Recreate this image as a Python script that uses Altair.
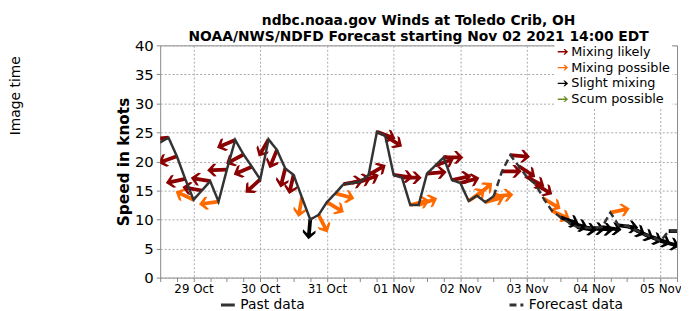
import altair as alt
import pandas as pd

# ---------------- data ----------------
past_times = [
    "2021-10-28T12:00", "2021-10-28T15:00", "2021-10-28T18:00", "2021-10-28T21:00",
    "2021-10-29T00:00", "2021-10-29T03:00", "2021-10-29T06:00", "2021-10-29T09:00",
    "2021-10-29T12:00", "2021-10-29T15:00", "2021-10-29T18:00", "2021-10-29T21:00",
    "2021-10-30T00:00", "2021-10-30T03:00", "2021-10-30T06:00", "2021-10-30T09:00",
    "2021-10-30T12:00", "2021-10-30T15:00", "2021-10-30T18:00", "2021-10-30T21:00",
    "2021-10-31T00:00", "2021-10-31T03:00", "2021-10-31T06:00", "2021-10-31T09:00",
    "2021-10-31T12:00", "2021-10-31T15:00", "2021-10-31T18:00", "2021-10-31T21:00",
    "2021-11-01T00:00", "2021-11-01T03:00", "2021-11-01T06:00", "2021-11-01T09:00",
    "2021-11-01T12:00", "2021-11-01T15:00", "2021-11-01T18:00", "2021-11-01T21:00",
    "2021-11-02T00:00", "2021-11-02T03:00", "2021-11-02T06:00", "2021-11-02T09:00",
    "2021-11-02T12:00",
]
past_speed = [
    23.3, 24.1, 20.9, 17.0, 13.4, 15.0, 16.6, 13.1,
    18.6, 23.7, 21.2, 19.1, 16.9, 23.8, 22.0, 18.8,
    17.7, 13.8, 10.0, 10.8, 13.0, 14.5, 16.1, 16.3,
    16.5, 17.7, 25.1, 24.4, 17.7, 17.2, 12.5, 12.5,
    17.9, 19.3, 20.7, 16.8, 16.3, 13.2, 14.1, 13.0,
    14.0,
]
# arrow direction on screen, degrees clockwise from "pointing right"
past_dir = [
    170, 175, 160, 168, 205, 190, 190, 172,
    178, 157, 152, 157, 138, 120, 112, 104,
    103, 100, 95, 63, 31, 15, 350, 345,
    340, 330, 20, 32, 8, 0, 346, 340,
    355, 340, 0, 348, 345, 325, 320, 345,
    355,
]
# L = mixing likely, P = mixing possible, S = slight mixing
past_cat = [
    "L", "L", "L", "L", "P", "L", "L", "P",
    "L", "L", "L", "L", "L", "L", "L", "L",
    "L", "P", "S", "P", "P", "P", "L", "L",
    "L", "L", "L", "L", "L", "L", "P", "P",
    "L", "L", "L", "L", "L", "P", "P", "P",
    "P",
]

fc_times = [
    "2021-11-02T15:00", "2021-11-02T18:00", "2021-11-02T21:00",
    "2021-11-03T00:00", "2021-11-03T03:00", "2021-11-03T06:00", "2021-11-03T09:00",
    "2021-11-03T12:00", "2021-11-03T15:00", "2021-11-03T18:00", "2021-11-03T21:00",
    "2021-11-04T00:00", "2021-11-04T03:00", "2021-11-04T06:00", "2021-11-04T09:00",
    "2021-11-04T12:00", "2021-11-04T15:00", "2021-11-04T18:00", "2021-11-04T21:00",
    "2021-11-05T00:00", "2021-11-05T03:00", "2021-11-05T06:00",
]
fc_speed = [
    18.3, 21.1, 19.2, 17.3, 16.1, 13.6, 11.5,
    10.4, 9.5, 8.7, 8.6, 8.5, 8.7, 11.2, 9.0,
    8.9, 8.2, 7.5, 7.0, 6.3, 8.0, 8.0,
]
fc_dir = [
    0, 5, 33, 28, 31, 31, 25,
    20, 15, 10, 5, 5, 8, 348, 7,
    25, 25, 22, 20, 15, 0, 0,
]
fc_cat = [
    "L", "L", "L", "L", "L", "P", "P",
    "S", "S", "S", "S", "S", "S", "P", "S",
    "S", "S", "S", "S", "S", "S", "S",
]

cat_codes = ["L", "P", "S", "C"]
cat_names = ["Mixing likely", "Mixing possible", "Slight mixing", "Scum possible"]
cat_colors = ["#8b0000", "#ff6a00", "#000000", "#6b8e23"]
series_names = ["Past data", "Forecast data"]

title_lines = [
    "ndbc.noaa.gov Winds at Toledo Crib, OH",
    "NOAA/NWS/NDFD Forecast starting Nov 02 2021 14:00 EDT",
]
side_text = "Image time"

tick_days = [(10, 28), (10, 29), (10, 30), (10, 31), (11, 1), (11, 2),
             (11, 3), (11, 4), (11, 5)]
tick_hours = [0, 6, 12, 18]
y_ticks = [0, 5, 10, 15, 20, 25, 30, 35, 40]

# ---------------- tables ----------------
name_of = dict(zip(cat_codes, cat_names))

line_rows = []
for t, v in zip(past_times, past_speed):
    line_rows.append({"time": t, "speed": v, "series": "Past data"})
line_rows.append({"time": past_times[-1], "speed": past_speed[-1], "series": "Forecast data"})
for t, v in zip(fc_times, fc_speed):
    line_rows.append({"time": t, "speed": v, "series": "Forecast data"})
line_df = pd.DataFrame(line_rows)

arrow_rows = []
for t, v, a, c in zip(past_times + fc_times, past_speed + fc_speed,
                      past_dir + fc_dir, past_cat + fc_cat):
    arrow_rows.append({"time": t, "speed": v, "ang": a, "cat": name_of[c]})
arrow_df = pd.DataFrame(arrow_rows)

# ---------------- shapes ----------------
ARROW = ("M0,-0.19 L1.42,-0.19 L1.05,-0.64 L1.34,-0.64 L2,0 L1.34,0.64 "
         "L1.05,0.64 L1.42,0.19 L0,0.19 Z")
LEG_ARROW = ("M-1,-0.13 L0.45,-0.13 L0.1,-0.55 L0.38,-0.55 L1,0 L0.38,0.55 "
             "L0.1,0.55 L0.45,0.13 L-1,0.13 Z")

FONT = "DejaVu Sans"

x_start = alt.DateTime(year=2021, month=10, date=28, hours=12)
x_end = alt.DateTime(year=2021, month=11, date=5, hours=6)
x_vals = []
for m, d in tick_days:
    for h in tick_hours:
        if (m, d) == (10, 28) and h < 12:
            continue
        if (m, d) == (11, 5) and h > 6:
            continue
        x_vals.append(alt.DateTime(year=2021, month=m, date=d, hours=h))

x_enc = alt.X(
    "time:T",
    title=None,
    scale=alt.Scale(domain=[x_start, x_end]),
    axis=alt.Axis(
        values=x_vals,
        labelExpr="hours(datum.value) == 0 ? timeFormat(datum.value, '%d %b') : ''",
        labelFontSize=12,
        labelFont=FONT,
        labelColor="black",
        labelPadding=2,
        labelFlush=False,
        labelOverlap=False,
        tickSize=4,
        tickColor="#888888",
        domain=False,
        grid=True,
        gridDash=[2, 2],
        gridColor="#a8a8a8",
        gridWidth=1,
        gridOpacity={"condition": {"test": "hours(datum.value) == 0", "value": 1}, "value": 0},
    ),
)
y_enc = alt.Y(
    "speed:Q",
    title="Speed in knots",
    scale=alt.Scale(domain=[0, 40], nice=False),
    axis=alt.Axis(
        values=y_ticks,
        labelFontSize=15,
        labelFont=FONT,
        labelColor="black",
        labelPadding=3,
        tickSize=4,
        tickColor="#888888",
        domain=False,
        grid=True,
        gridDash=[2, 2],
        gridColor="#a8a8a8",
        titleFont=FONT,
        titleFontSize=15.5,
        titleFontWeight="bold",
        titleColor="black",
        titlePadding=3,
    ),
)

arrows = alt.Chart(arrow_df).mark_point(
    shape=ARROW, filled=True, size=400, strokeWidth=0, opacity=1, clip=True
).encode(
    x=x_enc,
    y=y_enc,
    angle=alt.Angle("ang:Q", scale=None),
    color=alt.Color(
        "cat:N",
        scale=alt.Scale(domain=cat_names, range=cat_colors),
        legend=alt.Legend(
            title=None,
            orient="none",
            legendX=399,
            legendY=-2,
            symbolType=LEG_ARROW,
            symbolSize=110,
            symbolStrokeWidth=0,
            labelFontSize=13,
            labelFont=FONT,
            labelColor="black",
            labelOffset=2,
            rowPadding=2,
            padding=2,
            fillColor="white",
        ),
    ),
)

line = alt.Chart(line_df).mark_line(color="#333333", strokeWidth=2.5, clip=True).encode(
    x=x_enc,
    y=y_enc,
    strokeDash=alt.StrokeDash(
        "series:N",
        scale=alt.Scale(domain=series_names, range=[[1, 0], [7, 4]]),
        legend=alt.Legend(
            title=None,
            orient="none",
            legendX=60,
            legendY=254,
            direction="horizontal",
            columnPadding=200,
            symbolSize=196,
            symbolStrokeWidth=3,
            symbolStrokeColor="#333333",
            labelFontSize=14,
            labelFont=FONT,
            labelColor="black",
            labelOffset=4,
            padding=0,
        ),
    ),
)

side = alt.Chart(pd.DataFrame({"t": [side_text]})).mark_text(
    angle=270, fontSize=14, font=FONT, color="black", align="center", baseline="middle"
).encode(x=alt.value(-146), y=alt.value(51), text="t:N")

chart = alt.layer(arrows, line, side).properties(
    width=523,
    height=235,
    autosize=alt.AutoSizeParams(type="none"),
    padding={"left": 154, "top": 36, "right": 4, "bottom": 32},
    title=alt.Title(
        text=title_lines,
        fontSize=14,
        font=FONT,
        fontWeight="bold",
        color="black",
        anchor="middle",
        frame="group",
        offset=-6,
        lineHeight=17,
    ),
).configure(font=FONT).configure_view(stroke="#888888", strokeWidth=1)

chart.save("out.html", embed_options={"renderer": "svg", "actions": False})
